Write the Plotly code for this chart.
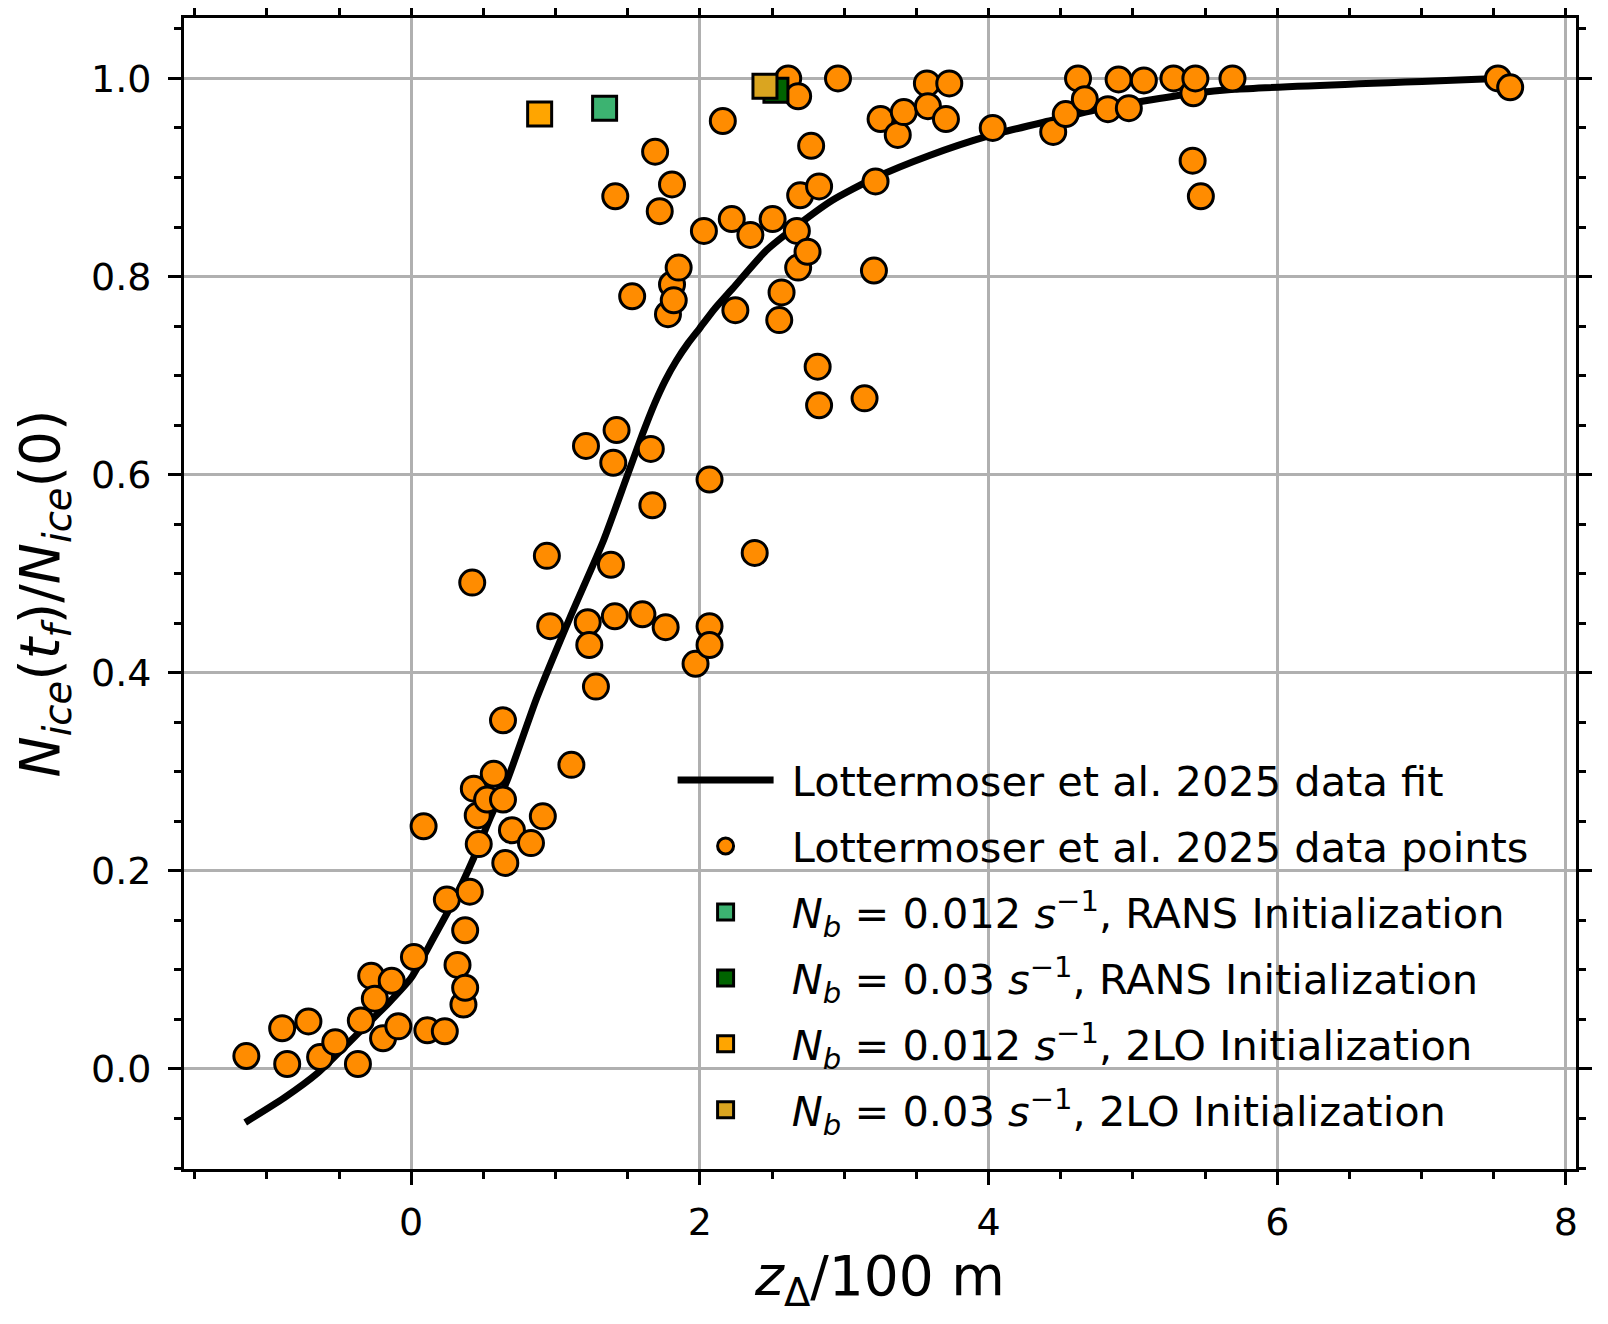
import plotly.graph_objects as go

# Lottermoser et al. 2025 data points
pts_x = [-1.142, -0.894, -0.859, -0.712, -0.631, -0.526, -0.369, -0.349, -0.277, -0.252,
         -0.195, -0.135, -0.089, 0.019, 0.086, 0.112, 0.233, 0.247, 0.321, 0.362,
         0.374, 0.374, 0.406, 0.423, 0.434, 0.461, 0.468, 0.526, 0.572, 0.636,
         0.636, 0.652, 0.698, 0.830, 0.912, 0.940, 0.963, 1.110, 1.211, 1.223,
         1.234, 1.280, 1.384, 1.400, 1.411, 1.414, 1.423, 1.531, 1.602, 1.660,
         1.671, 1.690, 1.722, 1.763, 1.779, 1.807, 1.807, 1.819, 1.853, 1.970,
         2.028, 2.067, 2.067, 2.067, 2.159, 2.221, 2.246, 2.350, 2.380, 2.504,
         2.550, 2.566, 2.612, 2.672, 2.681, 2.681, 2.695, 2.746, 2.771, 2.816,
         2.826, 2.826, 2.957, 3.141, 3.206, 3.217, 3.252, 3.371, 3.413, 3.573,
         3.580, 3.705, 3.728, 4.029, 4.448, 4.535, 4.620, 4.667, 4.827, 4.901,
         4.972, 5.076, 5.281, 5.414, 5.419, 5.433, 5.471, 5.690, 7.529, 7.614]
pts_y = [0.013, 0.041, 0.005, 0.048, 0.012, 0.027, 0.005, 0.049, 0.094, 0.071,
         0.031, 0.089, 0.043, 0.113, 0.245, 0.039, 0.038, 0.171, 0.105, 0.065,
         0.082, 0.140, 0.179, 0.491, 0.283, 0.256, 0.227, 0.272, 0.298, 0.352,
         0.272, 0.208, 0.241, 0.228, 0.255, 0.518, 0.447, 0.307, 0.629, 0.451,
         0.428, 0.386, 0.509, 0.612, 0.457, 0.881, 0.645, 0.780, 0.459, 0.626,
         0.569, 0.926, 0.866, 0.446, 0.762, 0.893, 0.792, 0.776, 0.809, 0.409,
         0.846, 0.595, 0.447, 0.428, 0.957, 0.858, 0.766, 0.842, 0.521, 0.858,
         0.756, 0.784, 1.000, 0.846, 0.982, 0.809, 0.882, 0.825, 0.932, 0.709,
         0.891, 0.670, 1.000, 0.677, 0.806, 0.896, 0.959, 0.943, 0.966, 0.995,
         0.972, 0.959, 0.995, 0.950, 0.946, 0.964, 1.000, 0.979, 0.969, 0.999,
         0.970, 0.998, 1.000, 0.917, 0.985, 1.000, 0.881, 1.000, 1.000, 0.991]

# Lottermoser et al. 2025 data fit
fit_x = [-1.150, -0.878, -0.647, -0.450, -0.257, -0.160, 0.000, 0.157, 0.295, 0.433,
         0.549, 0.664, 0.871, 1.101, 1.331, 1.492, 1.600, 1.687, 1.760, 1.837,
         1.920, 2.000, 2.100, 2.228, 2.458, 2.688, 2.918, 3.217, 3.586, 4.000,
         4.448, 4.827, 5.426, 5.700, 7.530]
fit_y = [-0.054, -0.029, -0.004, 0.024, 0.052, 0.066, 0.092, 0.133, 0.170, 0.213,
         0.254, 0.291, 0.375, 0.456, 0.533, 0.597, 0.640, 0.672, 0.695, 0.715,
         0.733, 0.748, 0.767, 0.788, 0.826, 0.853, 0.877, 0.900, 0.922, 0.942,
         0.958, 0.971, 0.985, 0.989, 1.000]

# Simulation results
sim_names = ["<i>N</i><sub><i>b</i></sub> = 0.012 <i>s</i><sup>−1</sup>, RANS Initialization",
             "<i>N</i><sub><i>b</i></sub> = 0.03 <i>s</i><sup>−1</sup>, RANS Initialization",
             "<i>N</i><sub><i>b</i></sub> = 0.012 <i>s</i><sup>−1</sup>, 2LO Initialization",
             "<i>N</i><sub><i>b</i></sub> = 0.03 <i>s</i><sup>−1</sup>, 2LO Initialization"]
sim_x = [1.340, 2.527, 0.890, 2.451]
sim_y = [0.970, 0.988, 0.964, 0.992]
sim_colors = ["#3CB371", "#006400", "#FFA500", "#DAA520"]

x_ticks = [0, 2, 4, 6, 8]
y_ticks = [0.0, 0.2, 0.4, 0.6, 0.8, 1.0]

FONT = "DejaVu Sans"
PAD = "\u00a0"

fig = go.Figure()
fig.add_trace(go.Scatter(
    x=fit_x, y=fit_y, mode="lines",
    line=dict(color="black", width=7, shape="spline", smoothing=0.6),
    name=PAD + "Lottermoser et al. 2025 data fit", legendgroup="g0"))
fig.add_trace(go.Scatter(
    x=pts_x, y=pts_y, mode="markers",
    marker=dict(symbol="circle", size=25, color="#FF8C00", line=dict(color="black", width=3)),
    name=PAD + "Lottermoser et al. 2025 data points", legendgroup="g1"))
for i, (nm, sx, sy, c) in enumerate(zip(sim_names, sim_x, sim_y, sim_colors)):
    fig.add_trace(go.Scatter(
        x=[sx], y=[sy], mode="markers",
        marker=dict(symbol="square", size=24, color=c, line=dict(color="black", width=3)),
        name=PAD + nm, legendgroup="g%d" % (i + 2)))

axis_common = dict(
    showline=True, linecolor="black", linewidth=3, mirror="allticks",
    ticks="outside", ticklen=13, tickwidth=3, tickcolor="black",
    showgrid=True, gridcolor="#b0b0b0", gridwidth=3, zeroline=False,
    automargin=False,
    tickfont=dict(family=FONT, size=38, color="black"),
)

fig.update_xaxes(
    range=[-1.574, 8.07], tickmode="array", tickvals=x_ticks,
    ticktext=[str(v) for v in x_ticks], ticklabelstandoff=4,
    minor=dict(dtick=0.5, tick0=0, ticks="outside", ticklen=7, tickwidth=2.5,
               tickcolor="black", showgrid=False),
    title=dict(text="<i>z</i><sub>Δ</sub>/100 m", font=dict(family=FONT, size=55, color="black"),
               standoff=10),
    **axis_common)
fig.update_yaxes(
    range=[-0.101, 1.061], tickmode="array", tickvals=y_ticks,
    ticktext=["%.1f" % v for v in y_ticks], ticklabelstandoff=9,
    minor=dict(dtick=0.05, tick0=0, ticks="outside", ticklen=7, tickwidth=2.5,
               tickcolor="black", showgrid=False),
    title=dict(text="<i>N</i><sub><i>ice</i></sub>(<i>t</i><sub><i>f</i></sub>)/<i>N</i><sub><i>ice</i></sub>(0)",
               font=dict(family=FONT, size=55, color="black"), standoff=16),
    **axis_common)

fig.update_layout(
    width=1608, height=1324,
    margin=dict(l=176, r=40, t=10, b=163),
    plot_bgcolor="white", paper_bgcolor="white",
    font=dict(family=FONT, color="black"),
    legend=dict(x=0.351, y=0.367, xanchor="left", yanchor="top",
                bgcolor="rgba(0,0,0,0)", borderwidth=0,
                font=dict(family=FONT, size=41.5, color="black"),
                tracegroupgap=9, itemwidth=96),
)

fig.write_html("out.html")
